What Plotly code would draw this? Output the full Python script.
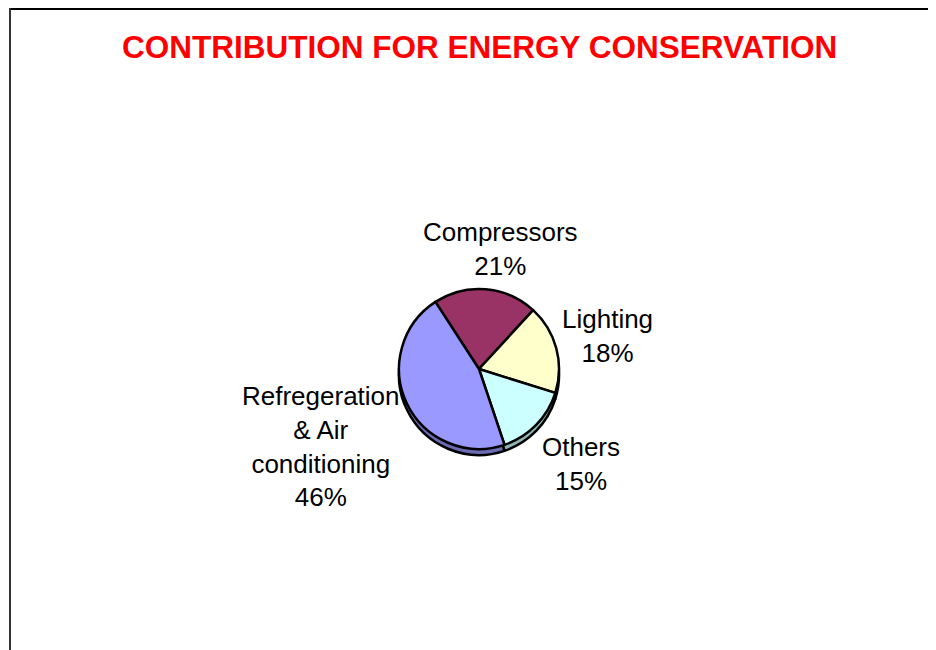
import plotly.graph_objects as go

# ---- data ----
labels = ["Compressors", "Lighting", "Others", "Refregeration<br>& Air<br>conditioning"]
values = [21, 18, 15, 46]
face_colors = ["#993366", "#FFFFCC", "#CCFFFF", "#9999FF"]
side_colors = ["#6B2347", "#BFBF99", "#8FB3B3", "#6B6BB3"]
title_text = "CONTRIBUTION FOR ENERGY CONSERVATION"

# ---- layout constants ----
W, H = 936, 650
OFF = 8  # page body margin
cx, cy, r = 479, 369, 80
depth = 6
start_rotation = -33

def px_x(x):
    return (x - OFF) / W

def px_y(y):
    return 1 - (y - OFF) / H

fig = go.Figure()

# 3D side (shadow) pie, shifted down
fig.add_trace(go.Pie(
    labels=labels, values=values, sort=False, direction="clockwise",
    rotation=start_rotation, textinfo="none", hoverinfo="skip",
    marker=dict(colors=side_colors, line=dict(color="black", width=2.5)),
    domain=dict(x=[px_x(cx - r), px_x(cx + r)],
                y=[px_y(cy + r + depth), px_y(cy - r + depth)]),
    showlegend=False,
))

# top face pie
fig.add_trace(go.Pie(
    labels=labels, values=values, sort=False, direction="clockwise",
    rotation=start_rotation, textinfo="none",
    marker=dict(colors=face_colors, line=dict(color="black", width=2.5)),
    domain=dict(x=[px_x(cx - r), px_x(cx + r)],
                y=[px_y(cy + r), px_y(cy - r)]),
    showlegend=False,
))

# data labels (text from the data arrays)
label_pos = [(500, 249), (607, 336), (581, 464), (321, 446)]
total = sum(values)
annotations = []
for lab, val, (lx, ly) in zip(labels, values, label_pos):
    annotations.append(dict(
        x=px_x(lx), y=px_y(ly), xref="paper", yref="paper",
        text=f"{lab}<br>{round(100 * val / total)}%",
        showarrow=False, xanchor="center", yanchor="middle", align="center",
        font=dict(family="Liberation Sans, Arial, sans-serif", size=26, color="black"),
    ))

annotations.append(dict(
    x=px_x(479), y=px_y(47), xref="paper", yref="paper",
    text=f"<b>{title_text}</b>", showarrow=False,
    xanchor="center", yanchor="middle",
    font=dict(family="Liberation Sans, Arial, sans-serif", size=31.5, color="#FF0000"),
))

shapes = [
    dict(type="line", xref="paper", yref="paper",
         x0=px_x(10), y0=px_y(8) - 1 / H, x1=1, y1=px_y(8) - 1 / H,
         line=dict(color="black", width=2)),
    dict(type="line", xref="paper", yref="paper",
         x0=px_x(10), y0=0, x1=px_x(10), y1=px_y(8),
         line=dict(color="#333333", width=2)),
]

fig.update_layout(
    width=W, height=H,
    margin=dict(l=0, r=0, t=0, b=0),
    paper_bgcolor="white", plot_bgcolor="white",
    annotations=annotations, shapes=shapes,
    showlegend=False,
)

fig.write_html("out.html", config={"displayModeBar": False})
